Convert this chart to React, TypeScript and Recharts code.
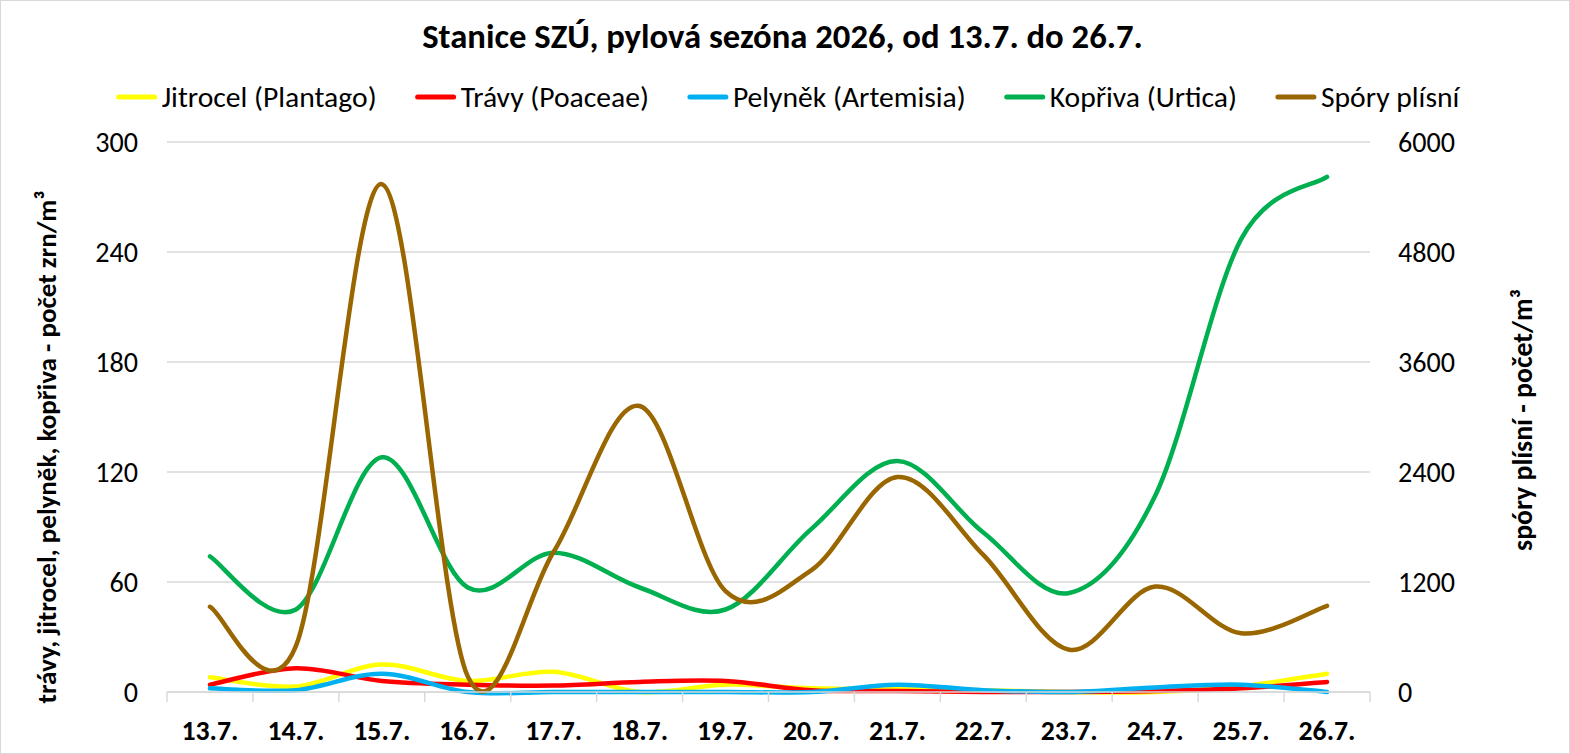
import React from 'react';
import { LineChart, Line, XAxis, YAxis, CartesianGrid } from 'recharts';

const categories = ['13.7.', '14.7.', '15.7.', '16.7.', '17.7.', '18.7.', '19.7.', '20.7.', '21.7.', '22.7.', '23.7.', '24.7.', '25.7.', '26.7.'];
const jitrocel = [8, 3, 15, 6, 11, 0, 4, 2, 1.5, 1, 0, 0, 3, 10];
const travy = [4, 13, 6, 4, 3.5, 5.5, 6, 1, 0.5, 0, 0, 0.5, 2, 5.5];
const pelynek = [2, 1, 10, 0, 0, 0, 0, 0, 4, 1, 0, 2.5, 4, 0];
const kopriva = [74, 45, 128, 57, 76, 57, 45, 89, 126, 87, 54, 107, 247, 281];
const spory = [930, 500, 5540, 170, 1530, 3120, 1100, 1330, 2345, 1495, 460, 1150, 640, 940];
const leftTicks = [0, 60, 120, 180, 240, 300];
const rightTicks = [0, 1200, 2400, 3600, 4800, 6000];

const TITLE = 'Stanice SZÚ, pylová sezóna 2026, od 13.7. do 26.7.';
const LEFT_TITLE = 'trávy, jitrocel, pelyněk, kopřiva - počet zrn/m³';
const RIGHT_TITLE = 'spóry plísní - počet/m³';

const seriesMeta = [
  { key: 'jitrocel', name: 'Jitrocel (Plantago)', color: '#FFFF00', axis: 'left' },
  { key: 'travy', name: 'Trávy (Poaceae)', color: '#FF0000', axis: 'left' },
  { key: 'pelynek', name: 'Pelyněk (Artemisia)', color: '#00B0F0', axis: 'left' },
  { key: 'kopriva', name: 'Kopřiva (Urtica)', color: '#00B050', axis: 'left' },
  { key: 'spory', name: 'Spóry plísní', color: '#996600', axis: 'right' },
];

const data = categories.map((c, i) => ({
  day: c,
  jitrocel: jitrocel[i],
  travy: travy[i],
  pelynek: pelynek[i],
  kopriva: kopriva[i],
  spory: spory[i],
}));

const FONT = "Carlito, Lato, 'Liberation Sans', sans-serif";

// text measurement to size fonts like the reference
let ctx: CanvasRenderingContext2D | null = null;
try {
  ctx = document.createElement('canvas').getContext('2d');
} catch (e) {
  ctx = null;
}
const measure = (text: string, weight: string, size: number) => {
  if (!ctx) return text.length * size * 0.5;
  ctx.font = `${weight} ${size}px ${FONT}`;
  return ctx.measureText(text).width;
};
const fit = (text: string, weight: string, target: number, fallback: number) => {
  const w = measure(text, weight, 100);
  return w > 0 ? (100 * target) / w : fallback;
};

const titleSize = fit(TITLE, 'bold', 721, 30);
const legendSize = fit('Jitrocel (Plantago)', 'normal', 215, 26);
const tickSize = fit('6000', 'normal', 57, 26);
const xTickSize = fit('13.7.', 'bold', 57, 26);
const leftTitleSize = fit(LEFT_TITLE, 'bold', 513, 24);
const rightTitleSize = fit(RIGHT_TITLE, 'bold', 262, 24);

// Excel-like smoothing (Catmull-Rom, 1/6 control factor)
const excelCurve: any = (context: any) => {
  let xs: number[] = [];
  let ys: number[] = [];
  return {
    areaStart() {},
    areaEnd() {},
    lineStart() {
      xs = [];
      ys = [];
    },
    point(x: number, y: number) {
      xs.push(+x);
      ys.push(+y);
    },
    lineEnd() {
      const n = xs.length;
      if (!n) return;
      context.moveTo(xs[0], ys[0]);
      for (let i = 0; i < n - 1; i++) {
        const i0 = Math.max(i - 1, 0);
        const i3 = Math.min(i + 2, n - 1);
        const c1x = xs[i] + (xs[i + 1] - xs[i0]) / 6;
        const c1y = ys[i] + (ys[i + 1] - ys[i0]) / 6;
        const c2x = xs[i + 1] - (xs[i3] - xs[i]) / 6;
        const c2y = ys[i + 1] - (ys[i3] - ys[i]) / 6;
        context.bezierCurveTo(c1x, c1y, c2x, c2y, xs[i + 1], ys[i + 1]);
      }
    },
  };
};

const XTick = (props: any) => {
  const { x, y, payload, index } = props;
  const w = typeof props.width === 'number' && props.width > 0 ? props.width : 1203;
  const half = w / categories.length / 2;
  return (
    <g>
      <line x1={x - half} x2={x - half} y1={y} y2={y + 10} stroke="#d9d9d9" strokeWidth={1.5} />
      {index === categories.length - 1 && (
        <line x1={x + half} x2={x + half} y1={y} y2={y + 10} stroke="#d9d9d9" strokeWidth={1.5} />
      )}
      <text x={x} y={y + 48} textAnchor="middle" fontFamily={FONT} fontWeight="bold" fontSize={xTickSize} fill="#000">
        {payload.value}
      </text>
    </g>
  );
};

const LeftLabel = (props: any) => {
  const vb = props.viewBox || { x: 0, y: 142, width: 167, height: 550 };
  const cx = vb.x + 46;
  const cy = vb.y + vb.height / 2 + 30;
  return (
    <text
      x={cx}
      y={cy}
      transform={`rotate(-90 ${cx} ${cy})`}
      textAnchor="middle"
      dominantBaseline="central"
      fontFamily={FONT}
      fontWeight="bold"
      fontSize={leftTitleSize}
      fill="#000"
    >
      {LEFT_TITLE}
    </text>
  );
};

const RightLabel = (props: any) => {
  const vb = props.viewBox || { x: 1370, y: 142, width: 200, height: 550 };
  const cx = vb.x + 152;
  const cy = vb.y + vb.height / 2 + 3;
  return (
    <text
      x={cx}
      y={cy}
      transform={`rotate(-90 ${cx} ${cy})`}
      textAnchor="middle"
      dominantBaseline="central"
      fontFamily={FONT}
      fontWeight="bold"
      fontSize={rightTitleSize}
      fill="#000"
    >
      {RIGHT_TITLE}
    </text>
  );
};

const LINE_W = 40;
const LINE_GAP = 5;
const ITEM_GAP = 39;

const HeaderOverlay = () => {
  const widths = seriesMeta.map((s) => measure(s.name, 'normal', legendSize));
  const total = widths.reduce((a, w) => a + LINE_W + LINE_GAP + w, 0) + ITEM_GAP * (seriesMeta.length - 1);
  let cursor = 788 - total / 2;
  const items = seriesMeta.map((s, i) => {
    const x0 = cursor;
    cursor += LINE_W + LINE_GAP + widths[i] + ITEM_GAP;
    return (
      <g key={s.key}>
        <line x1={x0 + 2} x2={x0 + LINE_W - 2} y1={97} y2={97} stroke={s.color} strokeWidth={5} strokeLinecap="round" />
        <text x={x0 + LINE_W + LINE_GAP} y={107} fontFamily={FONT} fontSize={legendSize} fill="#000">
          {s.name}
        </text>
      </g>
    );
  });
  return (
    <svg width={1570} height={130} style={{ position: 'absolute', left: -1, top: -1, pointerEvents: 'none' }}>
      <text x={782.5} y={48} textAnchor="middle" fontFamily={FONT} fontWeight="bold" fontSize={titleSize} fill="#000">
        {TITLE}
      </text>
      {items}
    </svg>
  );
};

export default function App() {
  return (
    <div
      style={{
        position: 'absolute',
        left: 0,
        top: 0,
        width: 1570,
        height: 754,
        background: '#fff',
        boxSizing: 'border-box',
        border: '1px solid #d9d9d9',
        fontFamily: FONT,
        overflow: 'hidden',
      }}
    >
      <div style={{ position: 'absolute', left: -1, top: -1 }}>
        <LineChart width={1570} height={754} data={data} margin={{ top: 142, right: 0, bottom: 0, left: 0 }}>
          <CartesianGrid yAxisId="left" vertical={false} stroke="#d9d9d9" strokeWidth={1.5} />
          <XAxis
            dataKey="day"
            scale="band"
            height={62}
            axisLine={{ stroke: '#d9d9d9', strokeWidth: 1.5 }}
            tickLine={false}
            tickSize={0}
            tickMargin={0}
            interval={0}
            tick={<XTick />}
          />
          <YAxis
            yAxisId="left"
            orientation="left"
            width={167}
            domain={[0, 300]}
            ticks={leftTicks}
            axisLine={false}
            tickLine={false}
            tickSize={0}
            tickMargin={29}
            tick={{ fontFamily: FONT, fontSize: tickSize, fill: '#000' }}
            label={<LeftLabel />}
          />
          <YAxis
            yAxisId="right"
            orientation="right"
            width={200}
            domain={[0, 6000]}
            ticks={rightTicks}
            axisLine={false}
            tickLine={false}
            tickSize={0}
            tickMargin={28}
            tick={{ fontFamily: FONT, fontSize: tickSize, fill: '#000' }}
            label={<RightLabel />}
          />
          {seriesMeta.map((s) => (
            <Line
              key={s.key}
              yAxisId={s.axis}
              dataKey={s.key}
              name={s.name}
              type={excelCurve}
              stroke={s.color}
              strokeWidth={4.5}
              strokeLinecap="round"
              strokeLinejoin="round"
              dot={false}
              activeDot={false}
              isAnimationActive={false}
            />
          ))}
        </LineChart>
      </div>
      <HeaderOverlay />
    </div>
  );
}
